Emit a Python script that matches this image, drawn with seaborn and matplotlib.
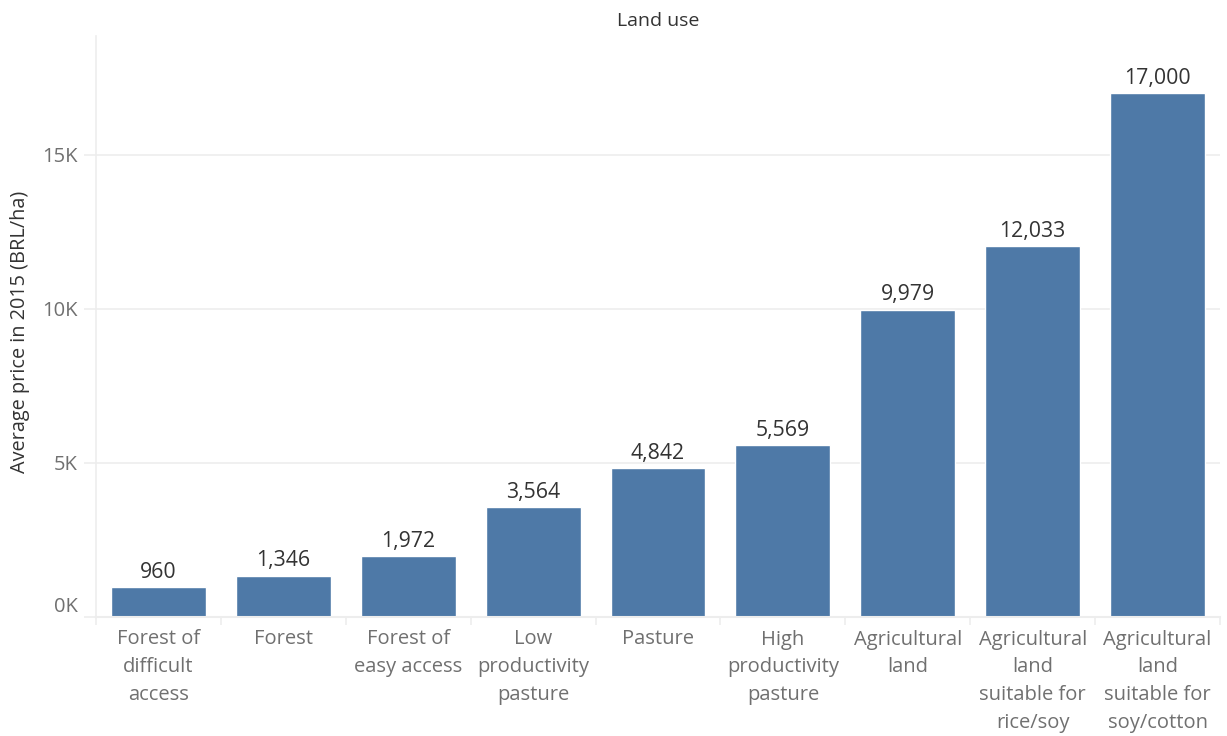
import matplotlib
matplotlib.use("Agg")
import matplotlib.pyplot as plt
import seaborn as sns
import pandas as pd
from matplotlib.ticker import FuncFormatter, FixedLocator
import matplotlib.transforms as mtransforms

categories = [
    "Forest of\ndifficult\naccess",
    "Forest",
    "Forest of\neasy access",
    "Low\nproductivity\npasture",
    "Pasture",
    "High\nproductivity\npasture",
    "Agricultural\nland",
    "Agricultural\nland\nsuitable for\nrice/soy",
    "Agricultural\nland\nsuitable for\nsoy/cotton",
]
prices = [960, 1346, 1972, 3564, 4842, 5569, 9979, 12033, 17000]
y_ticks = [0, 5000, 10000, 15000]
title = "Land use"
y_label = "Average price in 2015 (BRL/ha)"

df = pd.DataFrame({"cat": categories, "price": prices})

sns.set_theme(style="white")
plt.rcParams["font.family"] = ["Open Sans", "DejaVu Sans"]

fig = plt.figure(figsize=(12.27, 7.36), dpi=100)
ax = fig.add_axes([96 / 1227, 1 - 617 / 736, (1220 - 96) / 1227, (617 - 36) / 736])

sns.barplot(data=df, x="cat", y="price", color="#4e79a7", saturation=1,
            width=0.76, ax=ax, order=categories)

ax.set_xlim(-0.5, len(categories) - 0.5)
ax.set_ylim(0, 18860)

for c in ax.containers:
    ax.bar_label(c, labels=[f"{v:,.0f}" for v in prices], padding=3,
                 fontsize=15.3, color="#333333")

grid_c = "#ededed"
ax.yaxis.set_major_locator(FixedLocator(y_ticks))
ax.yaxis.set_major_formatter(FuncFormatter(lambda v, p: f"{v/1000:.0f}K"))
for y in y_ticks[1:]:
    ax.axhline(y, color=grid_c, lw=1.2, zorder=0)
ax.tick_params(axis="y", length=9, width=1.2, color=grid_c, pad=4,
               labelsize=14.5, labelcolor="#707070", left=True)
ylabs = ax.get_yticklabels()
offset = mtransforms.ScaledTranslation(0, 13 / 100, fig.dpi_scale_trans)
ylabs[0].set_transform(ylabs[0].get_transform() + offset)

ax.set_xlabel("")
ax.set_xticks(range(len(categories)))
ax.set_xticklabels(categories, fontsize=14.5, color="#707070", linespacing=1.52)
ax.tick_params(axis="x", length=0, pad=9)
ax.set_xticks([i - 0.5 for i in range(len(categories) + 1)], minor=True)
ax.tick_params(axis="x", which="minor", length=6, width=1.2, color=grid_c, bottom=True)

for s in ["top", "right"]:
    ax.spines[s].set_visible(False)
ax.spines["left"].set_color(grid_c)
ax.spines["left"].set_linewidth(1.2)
ax.spines["bottom"].set_color(grid_c)
ax.spines["bottom"].set_linewidth(1.5)

ax.set_ylabel(y_label, fontsize=14.3, color="#333333")
ax.yaxis.set_label_coords(-0.059, 0.49)
fig.text(658 / 1227, 1 - 21 / 736, title, ha="center", va="center",
         fontsize=14, color="#333333")

fig.savefig("out.png", dpi=100)
